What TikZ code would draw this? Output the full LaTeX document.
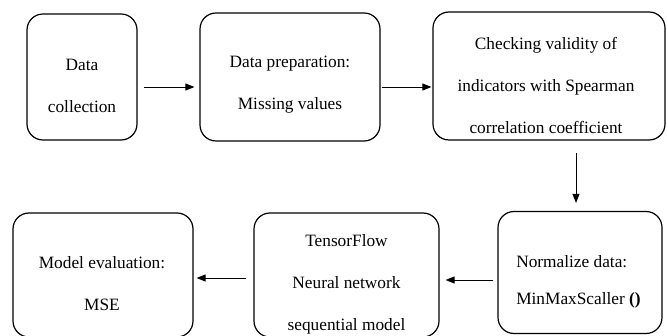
\documentclass[tikz,border=0pt]{standalone}
\usepackage{fontspec}
\setmainfont{Liberation Serif}
\usetikzlibrary{arrows.meta}

\begin{document}
\begin{tikzpicture}[x=1pt, y=-1pt, line width=0.9pt,
                    box/.style={draw, rounded corners=16pt, line width=1.2pt},
                    txt/.style={font=\fontsize{17.3}{42}\selectfont, align=center, inner sep=0pt},
                    flow/.style={-{Triangle[length=9pt,width=7pt]}}]

  \useasboundingbox (0,0) rectangle (668,336);
  \clip (0,0) rectangle (668,336);

  % Riga superiore
  \node[box, minimum width=110pt, minimum height=126pt] (collect) at (82,77) {};
  \node[box, minimum width=180pt, minimum height=128pt] (prep) at (290,77) {};
  \node[box, minimum width=232pt, minimum height=128pt] (check) at (549,76) {};

  % Riga inferiore (da destra a sinistra)
  \node[box, minimum width=164pt, minimum height=122pt] (norm) at (580,272.5) {};
  \node[box, minimum width=185pt, minimum height=124pt] (model) at (346.5,275) {};
  \node[box, minimum width=180pt, minimum height=124pt] (eval) at (103,275) {};

  % Testi
  \node[txt] (collecttxt) at ([yshift=-9pt]collect.center) {Data\\collection};
  \node[txt] (preptxt) at ([yshift=-8pt]prep.center) {Data preparation:\\Missing values};
  \node[txt] (checktxt) at ([xshift=-3pt,yshift=-9pt]check.center) {Checking validity of\\indicators with Spearman\\correlation coefficient};
  \node[txt, align=left, font=\fontsize{17.3}{37}\selectfont] (normtxt) at ([xshift=-1.5pt,yshift=-9pt]norm.center) {Normalize data:\\MinMaxScaller \textbf{()}};
  \node[txt] (modeltxt) at ([yshift=-9pt]model.center) {TensorFlow\\Neural network\\sequential model};
  \node[txt] (evaltxt) at ([xshift=-1pt,yshift=-9pt]eval.center) {Model evaluation:\\MSE};

  % Frecce
  \draw[flow, shorten <=6pt, shorten >=5pt] ([yshift=-10pt]collect.east) -- ([yshift=-10pt]prep.west);
  \draw[flow, shorten <=1pt, shorten >=1pt] ([yshift=-10pt]prep.east) -- ([yshift=-11pt]check.west);
  \draw[flow, shorten <=12pt, shorten >=8pt] ([xshift=27pt]check.south) -- ([xshift=-4pt]norm.north);
  \draw[flow, shorten <=4pt, shorten >=6pt] ([yshift=-7.5pt]norm.west) -- ([yshift=-5pt]model.east);
  \draw[flow, shorten <=7pt, shorten >=3pt] ([yshift=-3pt]model.west) -- ([yshift=-3pt]eval.east);

\end{tikzpicture}
\end{document}
